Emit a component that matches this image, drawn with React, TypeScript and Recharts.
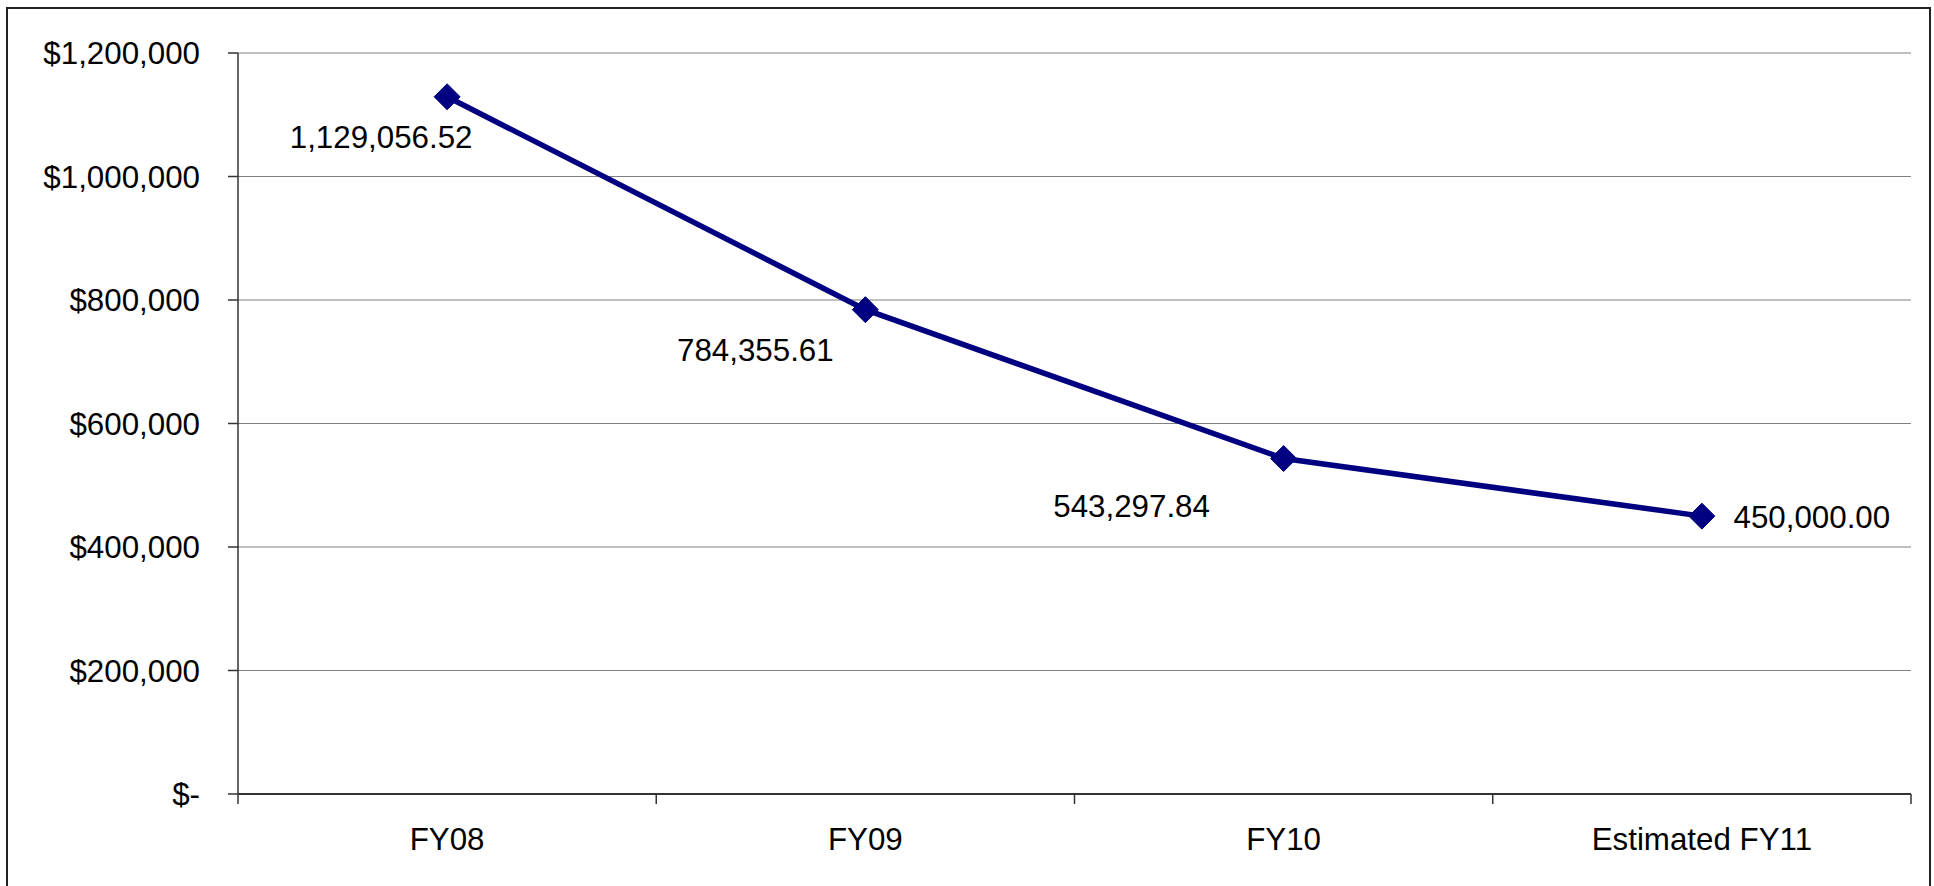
import React from 'react';
import { LineChart, Line, XAxis, YAxis, CartesianGrid } from 'recharts';

// Fiscal-year spending series
const years = ['FY08', 'FY09', 'FY10', 'Estimated FY11'];
const amounts = [1129056.52, 784355.61, 543297.84, 450000.0];
const yTicks = [0, 200000, 400000, 600000, 800000, 1000000, 1200000];

const data = years.map((year, i) => ({ year, amount: amounts[i] }));

// Label placement relative to each point (dx, dy to the label's centre)
const labelOffsets: [number, number][] = [
  [-66, 40],
  [-110, 40],
  [-152, 47],
  [110, 1],
];

const FONT = '"Liberation Sans", Arial, sans-serif';
const FONT_SIZE = 31.3;
const NAVY = '#000080';

const fmtMoney = (v: number) => (v === 0 ? '$-' : '$' + v.toLocaleString('en-US'));
const fmtLabel = (v: number) =>
  v.toLocaleString('en-US', { minimumFractionDigits: 2, maximumFractionDigits: 2 });

const Diamond = (props: any) => {
  const { cx, cy } = props;
  if (cx == null || cy == null) return null;
  const r = 13;
  return (
    <polygon
      points={`${cx},${cy - r} ${cx + r},${cy} ${cx},${cy + r} ${cx - r},${cy}`}
      fill={NAVY}
      stroke={NAVY}
      strokeWidth={1}
    />
  );
};

const PointLabel = (props: any) => {
  const { x, y, value, index } = props;
  const [dx, dy] = labelOffsets[index] || [0, 0];
  return (
    <text
      x={x + dx}
      y={y + dy + FONT_SIZE * 0.36}
      textAnchor="middle"
      fontFamily={FONT}
      fontSize={FONT_SIZE}
      fill="#000"
    >
      {fmtLabel(value)}
    </text>
  );
};

// Category tick: label at band centre, tick marks on band boundaries
const CategoryTick = (props: any) => {
  const { x, y, payload, index } = props;
  const half = payload && payload.offset ? payload.offset : 0;
  const axisY = y - 34;
  return (
    <g>
      <line x1={x - half} y1={axisY} x2={x - half} y2={axisY + 10} stroke="#333" strokeWidth={1.5} />
      {index === years.length - 1 && (
        <line x1={x + half} y1={axisY} x2={x + half} y2={axisY + 10} stroke="#333" strokeWidth={1.5} />
      )}
      <text
        x={x}
        y={y + FONT_SIZE * 0.71}
        textAnchor="middle"
        fontFamily={FONT}
        fontSize={FONT_SIZE}
        fill="#000"
      >
        {payload.value}
      </text>
    </g>
  );
};

export default function App() {
  return (
    <div
      style={{
        position: 'absolute',
        left: 0,
        top: 0,
        width: 1934,
        height: 886,
        overflow: 'hidden',
        background: '#fff',
      }}
    >
      <div
        style={{
          position: 'absolute',
          left: 6,
          top: 7,
          width: 1925,
          height: 900,
          border: '2px solid #222',
          boxSizing: 'border-box',
        }}
      />
      <div style={{ position: 'absolute', left: 0, top: 0 }}>
        <LineChart
          width={1934}
          height={886}
          data={data}
          margin={{ top: 53, right: 23, left: 0, bottom: 0 }}
        >
          <CartesianGrid horizontal vertical={false} stroke="#808080" strokeWidth={1.2} />
          <XAxis
            dataKey="year"
            scale="band"
            height={92}
            tickSize={10}
            tickMargin={24}
            tickLine={false}
            axisLine={{ stroke: '#333', strokeWidth: 2 }}
            tick={<CategoryTick />}
            interval={0}
          />
          <YAxis
            width={238}
            domain={[0, 1200000]}
            ticks={yTicks}
            interval={0}
            tickFormatter={fmtMoney}
            tickSize={10}
            tickMargin={28}
            tickLine={{ stroke: '#333', strokeWidth: 1.5 }}
            axisLine={{ stroke: '#333', strokeWidth: 1.5 }}
            tick={{ fontFamily: FONT, fontSize: FONT_SIZE, fill: '#000' }}
          />
          <YAxis
            yAxisId="frame"
            orientation="right"
            width={0}
            domain={[0, 1]}
            tick={false}
            tickLine={false}
            axisLine={{ stroke: '#999', strokeWidth: 2.5 }}
          />
          <Line
            type="linear"
            dataKey="amount"
            stroke={NAVY}
            strokeWidth={5.5}
            dot={<Diamond />}
            activeDot={false}
            label={<PointLabel />}
            isAnimationActive={false}
          />
        </LineChart>
      </div>
    </div>
  );
}
